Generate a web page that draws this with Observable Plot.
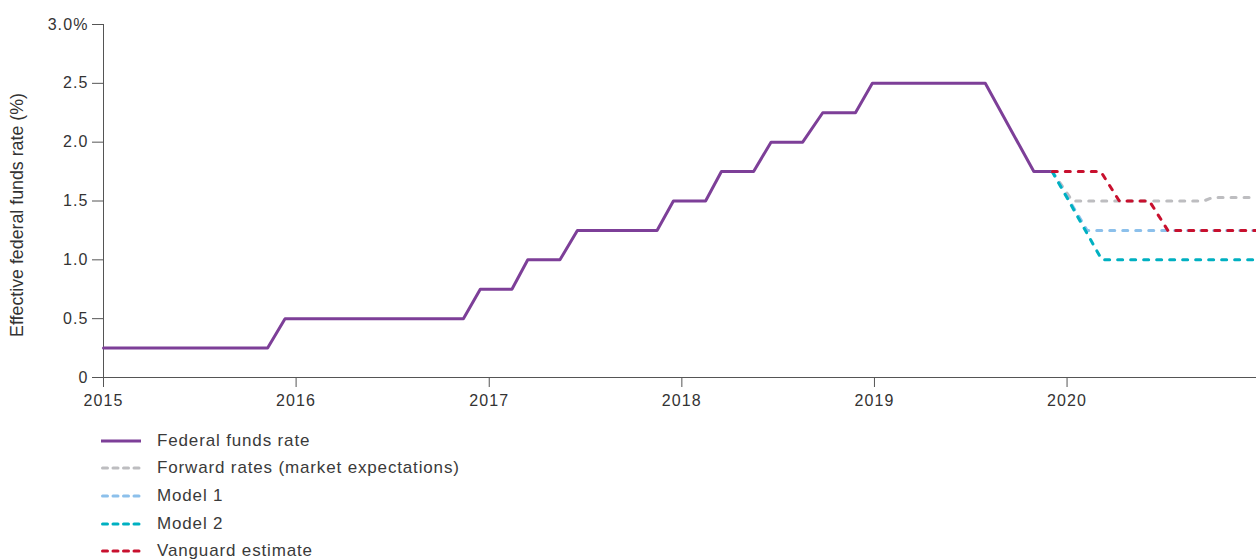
<!DOCTYPE html>
<html>
<head>
<meta charset="utf-8">
<script src="https://cdn.jsdelivr.net/npm/d3@7"></script>
<script src="https://cdn.jsdelivr.net/npm/@observablehq/plot@0.6"></script>
<style>
  html, body { margin: 0; padding: 0; background: #fff; overflow: hidden; }
  body { font-family: "Liberation Sans", Arial, sans-serif; color: #333; }
  #chart svg g[aria-label$="tick label"] text { font-size: 16px; letter-spacing: 1.1px; }
  #legend { padding-top: 12px; margin-left: 101px; }
  .item { display: flex; align-items: center; height: 27.6px; font-size: 17px; letter-spacing: 0.85px; color: #3a3a3a; }
  .item svg { margin-right: 16px; }
</style>
</head>
<body>
<div id="chart"></div>
<div id="legend"></div>
<script>
// ---- Data ----
const fedDates = ["2015-01-01","2015-11-08","2015-12-11","2016-11-13","2016-12-15","2017-02-13","2017-03-15","2017-05-15","2017-06-17","2017-11-15","2017-12-16","2018-02-15","2018-03-17","2018-05-17","2018-06-19","2018-08-18","2018-09-25","2018-11-26","2018-12-28","2019-07-30","2019-10-30","2019-12-04"];
const fedRates = [0.25,0.25,0.5,0.5,0.75,0.75,1.0,1.0,1.25,1.25,1.5,1.5,1.75,1.75,2.0,2.0,2.25,2.25,2.5,2.5,1.75,1.75];

const forwardDates = ["2019-12-04","2020-01-11","2020-09-16","2020-10-03","2020-12-25"];
const forwardRates = [1.75,1.5,1.5,1.53,1.53];

const model1Dates = ["2019-12-04","2020-02-08","2020-12-25"];
const model1Rates = [1.75,1.25,1.25];

const model2Dates = ["2019-12-04","2020-03-07","2020-12-25"];
const model2Rates = [1.75,1.0,1.0];

const vanguardDates = ["2019-12-04","2020-03-05","2020-04-09","2020-06-05","2020-07-10","2020-12-25"];
const vanguardRates = [1.75,1.75,1.5,1.5,1.25,1.25];

const seriesNames = ["Federal funds rate","Forward rates (market expectations)","Model 1","Model 2","Vanguard estimate"];
const seriesColors = ["#7d3f98","#bdbdc0","#8cc0eb","#00b0c1","#c8102e"];

const xTickYears = ["2015","2016","2017","2018","2019","2020"];
const yTicks = [0,0.5,1.0,1.5,2.0,2.5,3.0];
const yTickLabels = ["0","0.5","1.0","1.5","2.0","2.5","3.0%"];
const yLabel = "Effective federal funds rate (%)";

// ---- Build tables ----
const toRows = (dates, vals) => dates.map((d, i) => ({date: new Date(d + "T00:00:00Z"), value: vals[i]}));
const fed = toRows(fedDates, fedRates);
const forward = toRows(forwardDates, forwardRates);
const model1 = toRows(model1Dates, model1Rates);
const model2 = toRows(model2Dates, model2Rates);
const vanguard = toRows(vanguardDates, vanguardRates);

const xStart = new Date("2015-01-01T00:00:00Z");
const xEnd = new Date("2020-12-25T00:00:00Z");
const xTicks = xTickYears.map(y => new Date(y + "-01-01T00:00:00Z"));

const dash = {strokeDasharray: "5,8", strokeLinecap: "round"};
const axisColor = "#555";

const chart = Plot.plot({
  width: 1256,
  height: 415,
  marginTop: 24,
  marginBottom: 38,
  marginLeft: 103,
  marginRight: 0,
  style: {fontFamily: "'Liberation Sans', Arial, sans-serif", fontSize: "16px", color: "#333", background: "#fff"},
  x: {type: "utc", domain: [xStart, xEnd]},
  y: {domain: [0, 3]},
  marks: [
    Plot.axisX({ticks: xTicks, tickFormat: d => xTickYears[xTicks.findIndex(t => +t === +d)], tickSize: 10, tickPadding: 7, label: null, stroke: axisColor, fontSize: 16}),
    Plot.axisY({ticks: yTicks, tickFormat: d => yTickLabels[yTicks.indexOf(d)], tickSize: 11, tickPadding: 4, label: null, stroke: axisColor, fontSize: 16}),
    Plot.text([yLabel], {frameAnchor: "left", dx: -86, dy: 14, rotate: -90, textAnchor: "middle", fontSize: 17.8, fill: "#333"}),
    Plot.ruleX([xStart], {stroke: axisColor}),
    Plot.ruleY([0], {stroke: axisColor}),
    Plot.line(fed, {x: "date", y: "value", stroke: seriesColors[0], strokeWidth: 3}),
    Plot.line(forward, {x: "date", y: "value", stroke: seriesColors[1], strokeWidth: 3, ...dash}),
    Plot.line(model1, {x: "date", y: "value", stroke: seriesColors[2], strokeWidth: 3, ...dash}),
    Plot.line(model2, {x: "date", y: "value", stroke: seriesColors[3], strokeWidth: 3, ...dash}),
    Plot.line(vanguard, {x: "date", y: "value", stroke: seriesColors[4], strokeWidth: 3, ...dash})
  ]
});
document.getElementById("chart").appendChild(chart);

// ---- Legend ----
const legend = document.getElementById("legend");
seriesNames.forEach((name, i) => {
  const item = document.createElement("div");
  item.className = "item";
  const dashed = i > 0 ? 'stroke-dasharray="5,5.5" stroke-linecap="round"' : '';
  item.innerHTML = `<svg width="40" height="6"><line x1="${i>0?1.5:0}" x2="${i>0?38.5:40}" y1="3" y2="3" stroke="${seriesColors[i]}" stroke-width="3" ${dashed}/></svg><span>${name}</span>`;
  legend.appendChild(item);
});
</script>
</body>
</html>
